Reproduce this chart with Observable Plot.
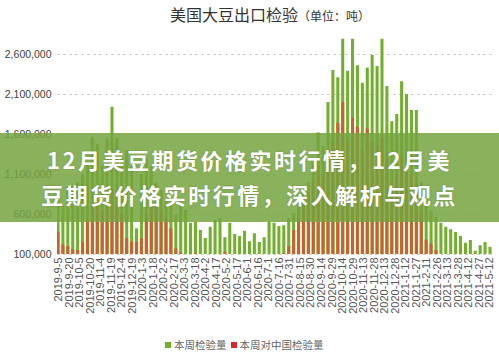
<!DOCTYPE html>
<html>
<head>
<meta charset="utf-8">
<script src="https://cdn.jsdelivr.net/npm/d3@7"></script>
<script src="https://cdn.jsdelivr.net/npm/@observablehq/plot@0.6"></script>
<style>
  html, body { margin: 0; padding: 0; background: #fff; }
  body { width: 499px; height: 357px; position: relative; overflow: hidden; font-family: "Noto Sans CJK SC", sans-serif; }
  #chart { position: absolute; left: 0; top: 0; }
  #title { position: absolute; left: 170px; top: 2px; white-space: nowrap; color: #333; }
  #title .main { font-size: 16px; }
  #title .unit { font-size: 12px; }
  #banner { position: absolute; left: 0; top: 133px; width: 499px; height: 89px; background: rgba(118,163,62,0.85);
            color: #fff; font-weight: 700; font-size: 22px; letter-spacing: 2.5px; text-align: center; line-height: 35px;
            padding-top: 9px; box-sizing: border-box; text-shadow: 0 0 2px rgba(0,0,0,0.2); }
  #legend { position: absolute; left: 165px; top: 337px; font-size: 10.5px; color: #666; white-space: nowrap; }
  #legend .sw { display: inline-block; width: 6px; height: 6px; margin-right: 3px; vertical-align: 1px; }
</style>
</head>
<body>
<div id="chart"></div>
<div id="title"><span class="main">美国大豆出口检验</span><span class="unit">（单位：吨）</span></div>
<div id="banner">12月美豆期货价格实时行情，12月美<br>豆期货价格实时行情，深入解析与观点</div>
<div id="legend"></div>
<script>
// Weekly inspection dates start
const startDate = "2019-09-05";
const weekCount = 89;

// 本周检验量 (tons), weekly
const totalValues = [
  850000, 700000, 900000, 950000, 1000000, 1100000, 1250000, 1560000, 1475000, 1200000,
  1540000, 1940000, 1550000, 1300000, 1400000, 1200000, 420000, 1100000, 1300000, 1200000,
  1000000, 900000, 800000, 750000, 590000, 700000, 650000, 490000, 500000, 400000,
  300000, 440000, 525000, 550000, 310000, 490000, 350000, 325000, 390000, 260000,
  360000, 250000, 310000, 500000, 490000, 450000, 460000, 550000, 610000, 700000,
  850000, 1000000, 1250000, 1620000, 1450000, 2000000, 2400000, 2310000, 2790000, 2390000,
  2790000, 2460000, 2240000, 2430000, 2590000, 2450000, 2790000, 2200000, 1760000, 1850000,
  2260000, 2100000, 1900000, 1900000, 1000000, 800000, 640000, 560000, 490000, 440000,
  410000, 375000, 325000, 240000, 275000, 140000, 210000, 250000, 190000
];

// 本周对中国检验量 (tons), weekly
const chinaValues = [
  380000, 220000, 200000, 160000, 150000, 250000, 550000, 700000, 750000, 650000,
  800000, 900000, 700000, 600000, 300000, 260000, 250000, 300000, 600000, 700000,
  750000, 650000, 550000, 420000, 170000, 120000, 90000, 60000, 110000, 40000,
  80000, 60000, 50000, 90000, 125000, 70000, 40000, 60000, 30000, 50000,
  80000, 40000, 60000, 90000, 50000, 70000, 110000, 200000, 400000, 550000,
  700000, 850000, 1000000, 1200000, 1100000, 1400000, 1500000, 1740000, 2000000, 1500000,
  1810000, 1690000, 1400000, 1670000, 1500000, 1450000, 1550000, 1300000, 1000000, 1100000,
  1300000, 1200000, 1100000, 1000000, 650000, 280000, 230000, 150000, 60000, 40000,
  30000, 20000, 20000, 10000, 10000, 10000, 0, 0, 0
];

// X tick labels
const xTickLabels = [
  "2019-9-5","2019-9-20","2019-10-5","2019-10-20","2019-11-4","2019-11-19","2019-12-4","2019-12-19",
  "2020-1-3","2020-1-18","2020-2-2","2020-2-17","2020-3-3","2020-3-18","2020-4-2","2020-4-17",
  "2020-5-2","2020-5-17","2020-6-1","2020-6-16","2020-7-1","2020-7-16","2020-7-31","2020-8-15",
  "2020-8-30","2020-9-14","2020-9-29","2020-10-14","2020-10-29","2020-11-13","2020-11-28","2020-12-13",
  "2020-12-28","2021-1-12","2021-1-27","2021-2-11","2021-2-26","2021-3-13","2021-3-28","2021-4-12",
  "2021-4-27","2021-5-12"
];

// Y tick values
const yTicks = [100000, 600000, 1100000, 1600000, 2100000, 2600000];

const seriesNames = ["本周检验量", "本周对中国检验量"];
const seriesColors = ["#72b02c", "#c9622a"];

const parseD = s => { const [y, m, d] = s.split("-").map(Number); return new Date(Date.UTC(y, m - 1, d)); };
const fmtD = d => `${d.getUTCFullYear()}-${d.getUTCMonth() + 1}-${d.getUTCDate()}`;

const start = parseD(startDate);
const weeks = d3.range(weekCount).map(i => d3.utcDay.offset(start, 7 * i));
const rows = weeks.map((date, i) => ({date, total: totalValues[i], china: chinaValues[i]}));
const ticks = xTickLabels.map(parseD);

const halfW = 52; // hours on each side of a bar's date
const x1 = d => d3.utcHour.offset(d.date, -halfW);
const x2 = d => d3.utcHour.offset(d.date, halfW);

const chart = Plot.plot({
  width: 499,
  height: 357,
  marginLeft: 57,
  marginRight: 6,
  marginTop: 34,
  marginBottom: 103,
  style: {fontFamily: "'Liberation Sans', Arial, sans-serif", background: "transparent", overflow: "visible"},
  x: {type: "utc", domain: [d3.utcHour.offset(weeks[0], -34), d3.utcHour.offset(weeks[weeks.length - 1], 103)]},
  y: {domain: [100000, 2850000]},
  marks: [
    Plot.gridY(yTicks, {stroke: "#d0d0d0", strokeOpacity: 1, strokeDasharray: "3,3"}),
    Plot.rectY(rows, {x1, x2, y: "total", fill: seriesColors[0], clip: true}),
    Plot.rectY(rows, {x1, x2, y: "china", fill: seriesColors[1], clip: true}),
    Plot.axisY({ticks: yTicks, tickFormat: d3.format(","), tickSize: 0, tickPadding: 6, fontSize: 10.5, color: "#404040", label: null}),
    Plot.axisX({ticks, tickFormat: fmtD, tickRotate: -90, tickSize: 0, tickPadding: 3, fontSize: 11, color: "#555", label: null})
  ]
});
document.getElementById("chart").appendChild(chart);

const legend = document.getElementById("legend");
legend.innerHTML = seriesNames.map((n, i) =>
  `<span class="sw" style="background:${i === 0 ? seriesColors[0] : "#d9262e"}"></span><span style="margin-right:4px">${n}</span>`
).join("");
</script>
</body>
</html>
